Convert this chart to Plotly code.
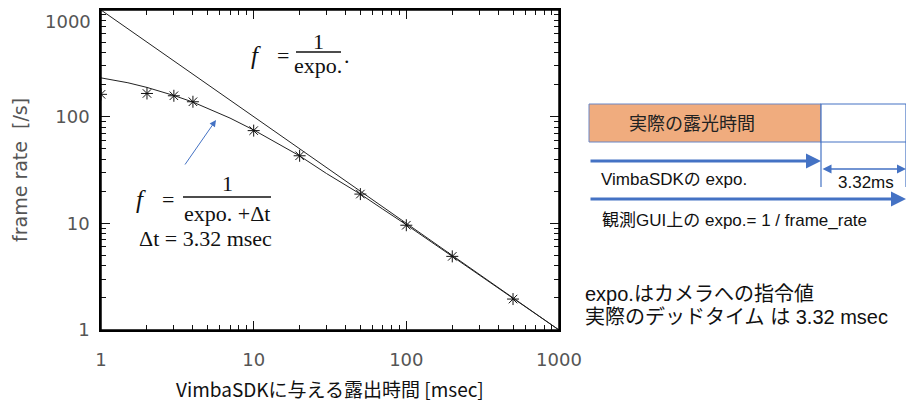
import plotly.graph_objects as go

# ---- data ----
meas_x = [1, 2, 3, 4, 10, 20, 50, 100, 200, 500]
meas_y = [162, 165, 157, 138, 74, 43, 18.8, 9.6, 4.9, 1.95]

ideal_x = [1, 1000]
ideal_y = [1000, 1]

fit_x = [1, 1.5, 2, 3, 4, 5, 7, 10, 15, 20, 30, 50, 70, 100, 200, 500, 1000]
fit_y = [231, 208, 188, 158, 137, 120, 97, 75, 54.6, 42.9, 29.3, 18.8, 13.6, 9.7, 4.9, 1.99, 1.0]

tick_vals = [1, 10, 100, 1000]
tick_text = ["1", "10", "100", "1000"]

W, H = 914, 405
OFF = 8  # page body margin of the html page
L, R, T, B = 101, 559, 10, 330


def px(x):
    return (x - L) / (R - L)


def py(y):
    return (B - y) / (B - T)


BLUE = "#4472C4"
SERIF = "Liberation Serif, DejaVu Serif, serif"
SANS_JP = "Liberation Sans, Noto Sans CJK JP, sans-serif"
AXF = "DejaVu Sans, sans-serif"
TICKC = "#555"

fig = go.Figure()
fig.add_trace(go.Scatter(x=ideal_x, y=ideal_y, mode="lines", xaxis="x2", yaxis="y2",
                         line=dict(color="#222", width=1), showlegend=False, hoverinfo="skip"))
fig.add_trace(go.Scatter(x=fit_x, y=fit_y, mode="lines",
                         line=dict(color="#222", width=1), showlegend=False))
fig.add_trace(go.Scatter(x=meas_x, y=meas_y, mode="markers",
                         marker=dict(symbol="asterisk-open", size=10, color="#111",
                                     line=dict(color="#111", width=1)),
                         showlegend=False, cliponaxis=True))

RNG = [-0.0002, 3.0002]


def axis(**kw):
    d = dict(
        type="log", range=RNG, showline=True, linecolor="#000", linewidth=1.5,
        ticks="inside", ticklen=9, tickcolor="#111", tickwidth=1,
        showgrid=False, zeroline=False, automargin=False,
        tickmode="array", tickvals=tick_vals,
        minor=dict(dtick="D1", ticks="inside", ticklen=5,
                   tickcolor="#111", tickwidth=1, showgrid=False),
    )
    d.update(kw)
    return d


fig.update_layout(
    xaxis=axis(ticktext=tick_text, ticklabelstandoff=13, ticklabeloverflow="allow",
               tickfont=dict(family=AXF, size=18, color=TICKC)),
    yaxis=axis(ticktext=tick_text[:3] + [""], ticklabelstandoff=6, ticklabeloverflow="allow",
               tickfont=dict(family=AXF, size=18, color=TICKC)),
    xaxis2=axis(overlaying="x", side="top", anchor="y", showticklabels=False),
    yaxis2=axis(overlaying="y", side="right", anchor="x", showticklabels=False),
)

ann = []


def txt(x, y, s, size, family, color="#111", xanchor="center"):
    ann.append(dict(x=px(x), y=py(y), xref="paper", yref="paper", text=s,
                    showarrow=False, xanchor=xanchor, yanchor="middle",
                    font=dict(size=size, family=family, color=color)))


# top y tick label (drawn slightly below the top edge, as in the picture)
txt(93, 21, tick_text[3], 18, AXF, TICKC, xanchor="right")

# axis titles
ann.append(dict(x=px(20), y=py(170), xref="paper", yref="paper", text="frame rate  [/s]",
                showarrow=False, textangle=-90, xanchor="center", yanchor="middle",
                font=dict(size=19, family=AXF, color=TICKC)))
txt(330, 388, "VimbaSDKに与える露出時間 [msec]", 19, "Noto Sans CJK JP, sans-serif", "#111")

# formula 1
txt(256, 55, "<i>f</i>", 25, SERIF)
txt(283, 55, "=", 22, SERIF)
txt(318, 42, "1", 22, SERIF)
txt(318, 65, "expo.", 22, SERIF)
txt(347, 55, ".", 22, SERIF)

# formula 2
txt(141, 199, "<i>f</i>", 25, SERIF)
txt(168, 199, "=", 22, SERIF)
txt(227, 183, "1", 22, SERIF)
txt(227, 213, "expo. +Δt", 22, SERIF)
txt(205, 238, "Δt = 3.32 msec", 22, SERIF)

# arrow in plot
ann.append(dict(x=px(216), y=py(120), xref="paper", yref="paper", text="",
                showarrow=True, ax=-32, ay=46, arrowcolor=BLUE, arrowwidth=1,
                arrowhead=2, arrowsize=1.3, standoff=0))

# right diagram texts
txt(692, 124, "実際の露光時間", 18, SANS_JP, "#222")
txt(599, 179, "VimbaSDKの expo.", 17, SANS_JP, "#111", xanchor="left")
txt(866, 182, "3.32ms", 17, SANS_JP, "#111")
txt(600, 220, "観測GUI上の expo.= 1 / frame_rate", 17, SANS_JP, "#111", xanchor="left")
txt(583, 294, "expo.はカメラへの指令値", 20, SANS_JP, "#111", xanchor="left")
txt(583, 317, "実際のデッドタイム は 3.32 msec", 20, SANS_JP, "#111", xanchor="left")

# diagram arrows
ann.append(dict(x=px(821), y=py(161), xref="paper", yref="paper", text="",
                showarrow=True, ax=-232, ay=0, arrowcolor=BLUE, arrowwidth=3,
                arrowhead=2, arrowsize=1, standoff=0))
ann.append(dict(x=px(906), y=py(199), xref="paper", yref="paper", text="",
                showarrow=True, ax=-317, ay=0, arrowcolor=BLUE, arrowwidth=3,
                arrowhead=2, arrowsize=1, standoff=0))
ann.append(dict(x=px(906), y=py(169), xref="paper", yref="paper", text="",
                showarrow=True, ax=-85, ay=0, arrowcolor=BLUE, arrowwidth=1.5,
                arrowhead=2, startarrowhead=2, arrowside="end+start",
                arrowsize=1.2, startarrowsize=1.2, standoff=0, startstandoff=0))

shapes = []


def line(x0, y0, x1, y1, color, width):
    shapes.append(dict(type="line", xref="paper", yref="paper",
                       x0=px(x0), y0=py(y0), x1=px(x1), y1=py(y1),
                       line=dict(color=color, width=width)))


# plot frame
shapes.append(dict(type="rect", xref="paper", yref="paper", x0=0, y0=0, x1=1, y1=1,
                   line=dict(color="#000", width=1.5), fillcolor="rgba(0,0,0,0)",
                   layer="above"))

# fraction bars
line(296, 52, 341, 52, "#111", 1.5)
line(183, 197, 271, 197, "#111", 1.5)

# boxes
shapes.append(dict(type="rect", xref="paper", yref="paper",
                   x0=px(589), y0=py(142), x1=px(821), y1=py(104),
                   fillcolor="#F0AC7E", line=dict(color="#6A86C4", width=1)))
shapes.append(dict(type="rect", xref="paper", yref="paper",
                   x0=px(821), y0=py(142), x1=px(906), y1=py(104),
                   fillcolor="white", line=dict(color=BLUE, width=1.2)))
line(821, 142, 821, 187, BLUE, 1.2)
line(906, 142, 906, 187, BLUE, 1.2)

fig.update_layout(
    width=W - OFF, height=H - OFF,
    margin=dict(l=L - OFF, r=W - R, t=T - OFF, b=H - B),
    paper_bgcolor="white", plot_bgcolor="white",
    annotations=ann, shapes=shapes, showlegend=False,
)

fig.write_html("out.html")
